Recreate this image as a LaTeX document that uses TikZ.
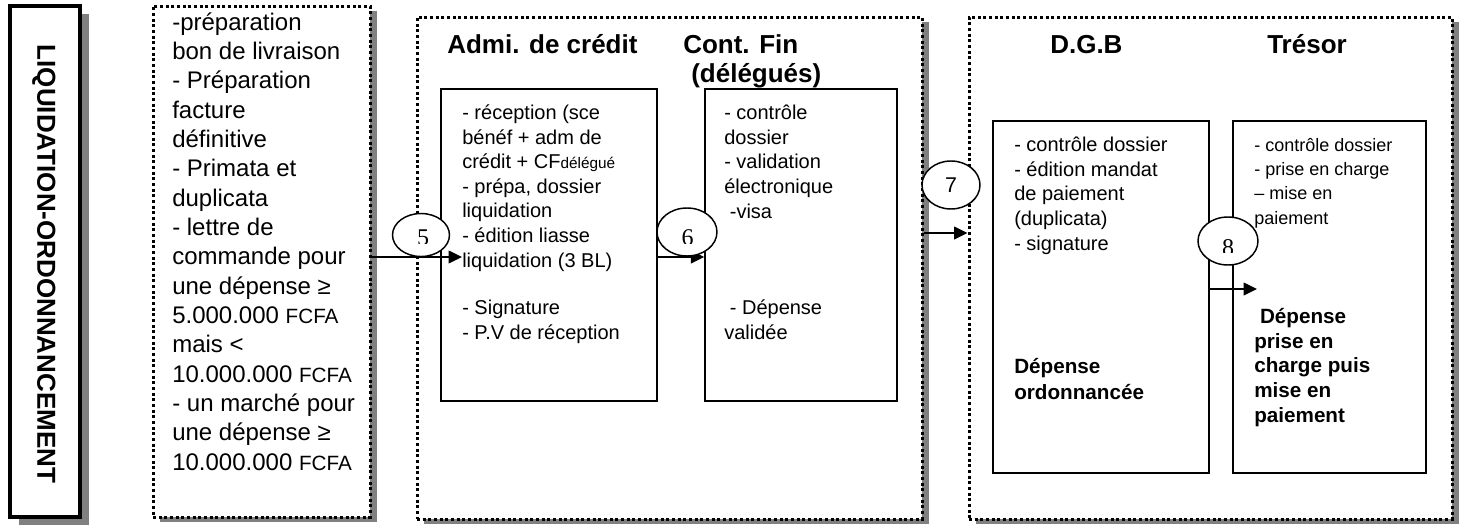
\documentclass[tikz,border=0pt]{standalone}
\usepackage{fontspec}
\setmainfont{Liberation Sans}
\newfontfamily\numfont{Liberation Serif}
\usetikzlibrary{shapes.geometric,arrows.meta,fit}
\definecolor{shadowgray}{RGB}{128,128,128}
\newcommand{\fcfa}{{\fontsize{15.5}{15.5}\selectfont FCFA}}
\newcommand{\deleg}{{\fontsize{11.5}{11.5}\selectfont délégué}}

\begin{document}
\begin{tikzpicture}[x=0.75pt,y=-0.75pt,
  titlebox/.style={draw, line width=2.5pt, fill=white, inner sep=0pt},
  frame/.style={draw, line width=2.25pt, dash pattern=on 2.25pt off 2pt, fill=white, inner sep=0pt},
  stage/.style={draw, line width=1.1pt, fill=white, inner sep=0pt},
  num/.style={ellipse, draw, line width=1.1pt, fill=white, inner sep=0pt,
              minimum width=45pt, minimum height=36pt},
  digit/.style={inner sep=0pt, outer sep=0pt, anchor=north, font=\numfont\fontsize{18}{18}\selectfont},
  flow/.style={line width=1.1pt, -{Triangle[length=10pt,width=9.5pt]}},
  head/.style={anchor=base west, inner sep=0pt, font=\fontsize{19.5}{22}\selectfont\bfseries},
  % multi-line blocks are placed by the baseline of their last line
  srctext/.style={anchor=base west, align=left, inner sep=0pt, font=\fontsize{18}{22}\selectfont},
  body/.style={anchor=base west, align=left, inner sep=0pt, font=\fontsize{15}{18.4}\selectfont},
  smallbody/.style={anchor=base west, align=left, inner sep=0pt, font=\fontsize{13.5}{18.2}\selectfont},
  result/.style={anchor=base west, align=left, inner sep=0pt, font=\fontsize{15.5}{18.4}\selectfont\bfseries},
]
\useasboundingbox (0,0) rectangle (1465,525);

% ---- vertical title ----
\fill[shadowgray] (19,14) rectangle (89,525);
\node[titlebox, fit={(10,6)(80,517)}] (title) {};
\node[rotate=-90, inner sep=0pt, font=\fontsize{19.5}{22}\selectfont\bfseries] (titletext) at (44,264) {LIQUIDATION-ORDONNANCEMENT};

% ---- dotted frames with shadows ----
\fill[shadowgray] (160,11) rectangle (377,522);
\node[frame, fit={(153,6)(370,517)}] (src) {};
\fill[shadowgray] (424,22) rectangle (929,524);
\node[frame, fit={(417,17)(922,519)}] (ctrl) {};
\fill[shadowgray] (976,22) rectangle (1459,524);
\node[frame, fit={(969,17)(1452,519)}] (pay) {};

% ---- inner stage boxes ----
\node[stage, fit={(441,89)(657,401)}] (admi) {};
\node[stage, fit={(705,89)(897,401)}] (cfin) {};
\node[stage, fit={(993,121)(1209,473)}] (dgb) {};
\node[stage, fit={(1233,121)(1426,473)}] (treso) {};

% ---- headings ----
\node[head] (hadmi) at (447,53) {Admi. de crédit};
\node[head] (hcfin) at (683,53) {Cont. Fin};
\node[head] (hdeleg) at (691,82) {(délégués)};
\node[head] (hdgb) at (1050,53) {D.G.B};
\node[head] (htreso) at (1267,53) {Trésor};

% ---- texts ----
\node[srctext] (srcbody) at (172,470) {-préparation\\bon de livraison\\- Préparation\\facture\\définitive\\- Primata et\\duplicata\\- lettre de\\commande pour\\une dépense ≥\\5.000.000 \fcfa\\mais <\\10.000.000 \fcfa\\- un marché pour\\une dépense ≥\\10.000.000 \fcfa};

\node[body] (admitext) at (462,267) {- réception (sce\\bénéf + adm de\\crédit + CF\deleg\\- prépa, dossier\\liquidation\\- édition liasse\\liquidation (3 BL)};
\node[body] (admisign) at (462,339.5) {- Signature\\- P.V de réception};

\node[body] (cfintext) at (724,218) {- contrôle\\dossier\\- validation\\électronique\\\hspace*{0.28em}-visa};
\node[body] (cfinvalid) at (724,339.5) {\hspace*{0.28em}- Dépense\\validée};

\node[body] (dgbtext) at (1014,250) {- contrôle dossier\\- édition mandat\\de paiement\\(duplicata)\\- signature};
\node[result, font=\fontsize{15.5}{19.5}\selectfont\bfseries] (dgbresult) at (1014,399) {Dépense\\ordonnancée};

\node[smallbody] (tresotext) at (1254,224) {- contrôle dossier\\- prise en charge\\– mise en\\paiement};
\node[result] (tresoresult) at (1254,422) {\hspace*{0.28em}Dépense\\prise en\\charge puis\\mise en\\paiement};

% ---- flow arrows ----
\coordinate (tip5) at (462,257);
\draw[flow] (src.east |- tip5) -- (tip5);
\coordinate (row6) at (680,257);
\draw[flow] (admi.east |- row6) -- (cfin.west |- row6);
\coordinate (row7) at (945,233);
\draw[flow] (ctrl.east |- row7) -- (pay.west |- row7);
\coordinate (tip8) at (1257,289);
\draw[flow] (dgb.east |- tip8) -- (tip8);

% ---- step numbers ----
\node[num, minimum width=42.75pt, minimum height=32.25pt] (c5) at (421,235) {};
\begin{scope}
  \clip (390,210) rectangle (452,243);
  \node[digit] (n5) at (423,230) {5};
\end{scope}
\node[num] (c6) at (687,232) {};
\begin{scope}
  \clip (655,205) rectangle (719,243);
  \node[digit] (n6) at (687.5,230) {6};
\end{scope}
\node[num, minimum width=43.5pt, font=\fontsize{16}{16}\selectfont] (c7) at (951,185) {7};
\node[num] (c8) at (1228,241) {};
\begin{scope}
  \clip (1196,215) rectangle (1260,252);
  \node[digit] (n8) at (1228,240) {8};
\end{scope}
\end{tikzpicture}
\end{document}
